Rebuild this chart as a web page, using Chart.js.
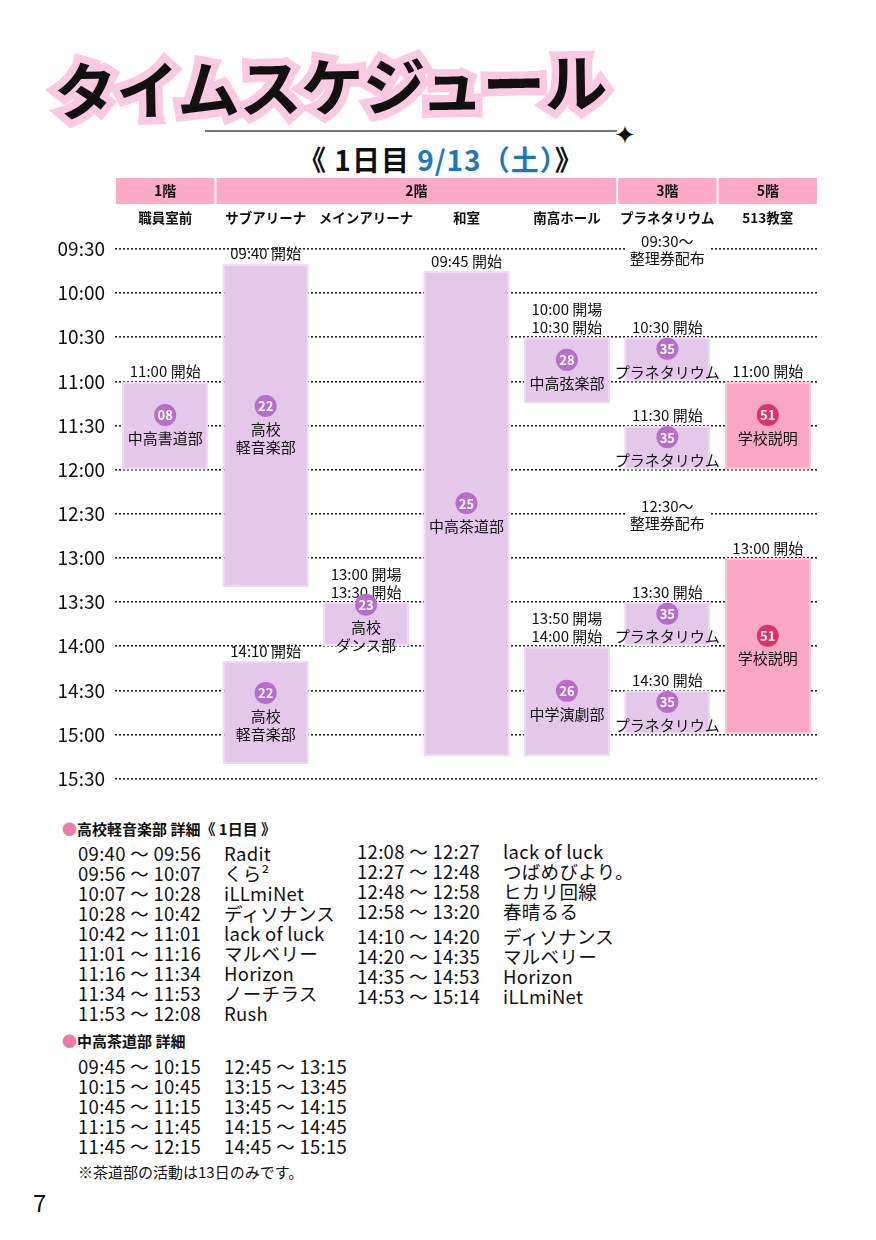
<!DOCTYPE html>
<html><head><meta charset="utf-8">
<script src="https://cdn.jsdelivr.net/npm/chart.js@4"></script>
<style>
body{margin:0;width:876px;height:1240px;background:#fff;font-family:"Noto Sans CJK JP","Noto Sans",sans-serif;position:relative;overflow:hidden;color:#111}
.abs{position:absolute;white-space:nowrap}
#title{left:54px;top:38px;font-size:63px;font-weight:700;letter-spacing:-1px;-webkit-text-stroke:15px #fbc9e2;paint-order:stroke fill;color:#111;transform:rotate(-1deg)}
#rule{left:205px;top:130px;width:412px;height:2px;background:#777}
#star{left:614px;top:114px;font-size:26px}
#sub{left:298px;top:139px;font-size:28px;font-weight:700;letter-spacing:1px}
#sub span{color:#1a78c2;font-weight:600}
#cv{position:absolute;left:0;top:175px}
.h{font-size:15px;font-weight:700}
.h b{color:#f07aa8;font-size:15px}
.t{font-size:18.5px;line-height:20px;letter-spacing:0.3px}
.t i{font-style:normal;display:inline-block;width:146px}
</style></head><body>
<div id="title" class="abs">タイムスケジュール</div>
<div id="rule" class="abs"></div>
<div id="star" class="abs">✦</div>
<div id="sub" class="abs">《 1日目 <span>9/13（土）</span>》</div>
<canvas id="cv" width="876" height="625" style="width:876px;height:625px"></canvas>

<div class="abs h" style="left:62px;top:818px"><b>●</b>高校軽音楽部 詳細《 1日目 》</div>
<div class="abs t" style="left:78px;top:843px"><i>09:40 ～ 09:56</i>Radit<br><i>09:56 ～ 10:07</i>くら²<br><i>10:07 ～ 10:28</i>iLLmiNet<br><i>10:28 ～ 10:42</i>ディソナンス<br><i>10:42 ～ 11:01</i>lack of luck<br><i>11:01 ～ 11:16</i>マルベリー<br><i>11:16 ～ 11:34</i>Horizon<br><i>11:34 ～ 11:53</i>ノーチラス<br><i>11:53 ～ 12:08</i>Rush</div>
<div class="abs t" style="left:357px;top:841px"><i>12:08 ～ 12:27</i>lack of luck<br><i>12:27 ～ 12:48</i>つばめびより。<br><i>12:48 ～ 12:58</i>ヒカリ回線<br><i>12:58 ～ 13:20</i>春晴るる</div>
<div class="abs t" style="left:357px;top:926px"><i>14:10 ～ 14:20</i>ディソナンス<br><i>14:20 ～ 14:35</i>マルベリー<br><i>14:35 ～ 14:53</i>Horizon<br><i>14:53 ～ 15:14</i>iLLmiNet</div>
<div class="abs h" style="left:62px;top:1030px"><b>●</b>中高茶道部 詳細</div>
<div class="abs t" style="left:78px;top:1056px">09:45 ～ 10:15<br>10:15 ～ 10:45<br>10:45 ～ 11:15<br>11:15 ～ 11:45<br>11:45 ～ 12:15</div>
<div class="abs t" style="left:224px;top:1056px">12:45 ～ 13:15<br>13:15 ～ 13:45<br>13:45 ～ 14:15<br>14:15 ～ 14:45<br>14:45 ～ 15:15</div>
<div class="abs" style="left:78px;top:1161px;font-size:15px">※茶道部の活動は13日のみです。</div>
<div class="abs" style="left:33px;top:1184px;font-size:24px">7</div>

<script>
const rooms = ['職員室前','サブアリーナ','メインアリーナ','和室','南高ホール','プラネタリウム','513教室'];
const floorNames = ['1階','2階','3階','5階'];
const floorFirst = [0,1,5,6];
const floorLast  = [0,4,5,6];
const yTicks = [9.5,10,10.5,11,11.5,12,12.5,13,13.5,14,14.5,15,15.5];

const evRoom  = [0,1,1,2,3,4,4,5,5,5,5,6,6];
const evStart = [11,9+40/60,14+10/60,13.5,9.75,10.5,14,10.5,11.5,13.5,14.5,11,13];
const evEnd   = [12,13+20/60,15+20/60,14,15.25,11.25,15.25,11,12,14,15,12,15];
const evNum   = ['08','22','22','23','25','28','26','35','35','35','35','51','51'];
const evName  = ['中高書道部','高校\n軽音楽部','高校\n軽音楽部','高校\nダンス部','中高茶道部','中高弦楽部','中学演劇部','プラネタリウム','プラネタリウム','プラネタリウム','プラネタリウム','学校説明','学校説明'];
const evNote  = ['11:00 開始','09:40 開始','14:10 開始','13:00 開場\n13:30 開始','09:45 開始','10:00 開場\n10:30 開始','13:50 開場\n14:00 開始','10:30 開始','11:30 開始','13:30 開始','14:30 開始','11:00 開始','13:00 開始'];
const evPink  = [0,0,0,0,0,0,0,0,0,0,0,1,1];
const freeRoom = [5,5];
const freeTime = [9.5,12.5];
const freeText = ['09:30～\n整理券配布','12:30～\n整理券配布'];

const LAV='#e4c8ea', PINK='#f9a7c5', BADGE='#b86ccc', BADGEP='#e3306c';
const FONT='"Noto Sans CJK JP","Noto Sans",sans-serif';

const fmt = v => { const h=Math.floor(v+1e-6), m=Math.round((v-h)*60); return String(h).padStart(2,'0')+':'+String(m).padStart(2,'0'); };

const deco = {
  id:'deco',
  afterDatasetsDraw(chart){
    const c=chart.ctx, xs=chart.scales.x, ys=chart.scales.y;
    const half = (xs.getPixelForValue(1)-xs.getPixelForValue(0))/2;
    c.save();
    c.textAlign='center'; c.textBaseline='middle';
    for(let i=0;i<floorNames.length;i++){
      const l=xs.getPixelForValue(floorFirst[i])-half+1, r=xs.getPixelForValue(floorLast[i])+half-1;
      c.fillStyle='#fcaac8'; c.fillRect(l,3,r-l,26);
      c.fillStyle='#111'; c.font='bold 14px '+FONT; c.fillText(floorNames[i],(l+r)/2,16);
    }
    c.font='bold 13.5px '+FONT;
    rooms.forEach((r,i)=>{ c.fillText(r, xs.getPixelForValue(i), 43); });
    c.font='15px '+FONT;
    for(let i=0;i<freeText.length;i++){
      const x=xs.getPixelForValue(freeRoom[i]), y=ys.getPixelForValue(freeTime[i]);
      c.fillStyle='#fff'; c.fillRect(x-42,y-17,84,34);
      c.fillStyle='#111';
      freeText[i].split('\n').forEach((t,k)=>c.fillText(t,x,y-8+k*17));
    }
    const meta=chart.getDatasetMeta(0);
    meta.data.forEach((el,i)=>{
      const top=Math.min(el.y,el.base), bot=Math.max(el.y,el.base), x=el.x;
      c.fillStyle='#111'; c.font='15px '+FONT;
      const nl=evNote[i].split('\n');
      nl.forEach((t,k)=>c.fillText(t,x,top-10-(nl.length-1-k)*18));
      const lines=evName[i].split('\n');
      const tot=22+3+lines.length*18, cy=(top+bot)/2, s=cy-tot/2;
      c.beginPath(); c.arc(x,s+11,11,0,Math.PI*2); c.fillStyle=evPink[i]?BADGEP:BADGE; c.fill();
      c.fillStyle='#fff'; c.font='bold 13px '+FONT; c.fillText(evNum[i],x,s+11.5);
      c.fillStyle='#111'; c.font='15px '+FONT;
      lines.forEach((t,k)=>c.fillText(t,x,s+25+9+k*18));
    });
    c.restore();
  }
};

new Chart(document.getElementById('cv'),{
  type:'bar',
  data:{labels:rooms,datasets:[{
    data:evRoom.map((r,i)=>({x:rooms[r],y:[evStart[i],evEnd[i]]})),
    backgroundColor:evPink.map(p=>p?PINK:LAV),
    borderColor:evPink.map(p=>p?'#fbc6da':'#eedaf2'),
    borderWidth:2, borderSkipped:false,
    barPercentage:0.86, categoryPercentage:1
  }]},
  options:{
    responsive:false, animation:false,
    layout:{padding:{top:74,right:58,bottom:14,left:0}},
    plugins:{legend:{display:false},tooltip:{enabled:false}},
    scales:{
      x:{display:false},
      y:{reverse:true,min:9.5,max:15.5,
        afterBuildTicks(s){ s.ticks=yTicks.map(v=>({value:v})); },
        afterFit(s){ s.width=115; },
        border:{display:false,dash:[2,2]},
        grid:{color:'#222',lineWidth:1.6,drawTicks:false,tickLength:0},
        ticks:{padding:10,color:'#111',font:{size:19,family:FONT},callback:v=>fmt(v)}
      }
    }
  },
  plugins:[deco]
});
</script>
</body></html>
